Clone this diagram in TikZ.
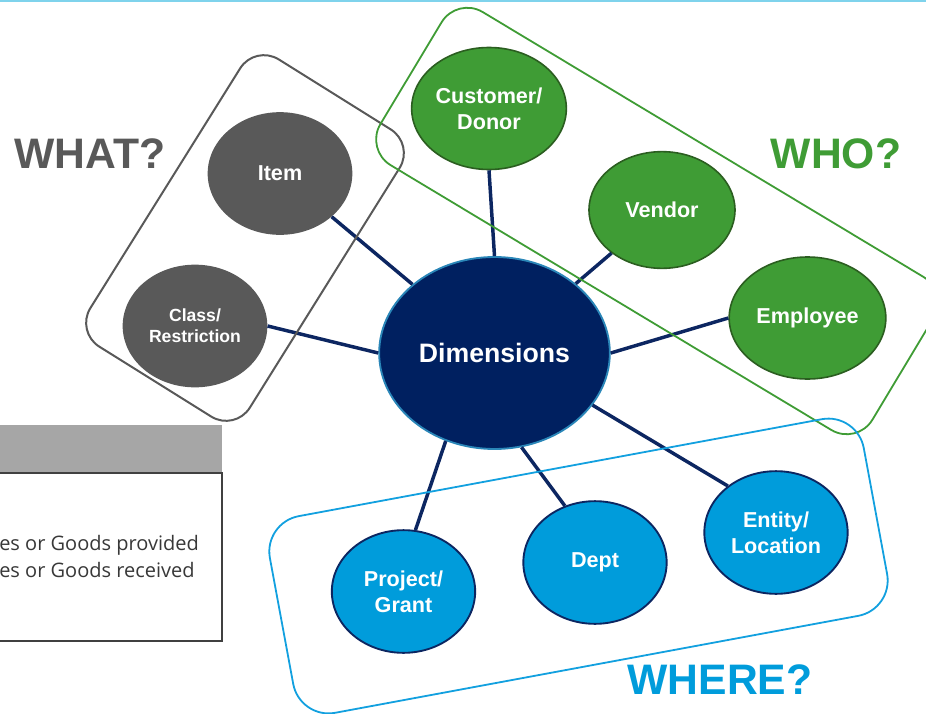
\documentclass[tikz,border=0pt]{standalone}
\usepackage{fontspec}
\setmainfont{Liberation Sans}
\newfontfamily\tablefont{Open Sans}
\usetikzlibrary{shapes.geometric}

\definecolor{whatgray}{HTML}{595959}
\definecolor{whogreen}{HTML}{3F9C35}
\definecolor{whoedge}{HTML}{2B5E20}
\definecolor{whereblue}{HTML}{009CDB}
\definecolor{wherebox}{HTML}{12A0DF}
\definecolor{dimnavy}{HTML}{002060}
\definecolor{dimedge}{HTML}{2A86B8}
\definecolor{linknavy}{HTML}{0C2661}
\definecolor{topline}{HTML}{7FD3EC}
\definecolor{headgray}{HTML}{A6A6A6}

\begin{document}
\begin{tikzpicture}[x=0.75pt,y=0.75pt,
    every node/.style={inner sep=0pt, align=center},
    dim node/.style={ellipse, fill=dimnavy, draw=dimedge, line width=1.4pt,
      minimum width=173pt, minimum height=144pt, text=white,
      font=\bfseries\fontsize{20}{24}\selectfont},
    what node/.style={ellipse, fill=whatgray, minimum width=108.5pt,
      minimum height=92pt, text=white, font=\bfseries\fontsize{16.2}{19.5}\selectfont},
    who node/.style={ellipse, fill=whogreen, draw=whoedge, line width=1.2pt,
      text=white, font=\bfseries\fontsize{16.2}{19.5}\selectfont},
    where node/.style={ellipse, fill=whereblue, draw=linknavy, line width=1.4pt,
      minimum width=107.5pt, minimum height=92pt, text=white,
      font=\bfseries\fontsize{16.2}{19.5}\selectfont},
    group box/.style={rectangle, line width=1.35pt},
    group label/.style={font=\bfseries\fontsize{32}{36}\selectfont},
    connector/.style={draw=linknavy, line width=2.6pt},
    table text/.style={text=black!78, font=\tablefont\fontsize{15}{18}\selectfont}]

  \useasboundingbox (0,0) rectangle (926,-714);

  % thin rule along the top
  \draw[topline, line width=1.5pt] (0,-0.8) -- (926,-0.8);

  % legend table, cut off on the left
  \fill[headgray] (-5,-425) rectangle (222,-473);
  \draw[black!75, line width=0.9pt, fill=white] (-5,-473) rectangle (222,-641);
  \node[table text, anchor=base west] (provided) at (-1,-550) {es or Goods provided};
  \node[table text, anchor=base west] (received) at (-1,-577) {es or Goods received};

  \node[dim node] (dim) at (494.5,-353) {Dimensions};

  \node[what node] (item) at (280,-173.5) {Item};
  \node[what node, font=\bfseries\fontsize{13.2}{15.5}\selectfont] (cls) at (195,-326) {Class/\\Restriction};

  \node[who node, minimum width=116pt, minimum height=91.5pt] (cust) at (489,-108.5) {Customer/\\Donor};
  \node[who node, minimum width=109.5pt, minimum height=87.5pt] (vend) at (662,-210) {Vendor};
  \node[who node, minimum width=117.5pt, minimum height=91.5pt] (emp) at (807.5,-318) {Employee};

  \node[where node] (proj) at (403.5,-591.5) {Project/\\Grant};
  \node[where node] (dept) at (595,-562.5) {Dept};
  \node[where node] (ent) at (776,-532.5) {Entity/\\Location};

  \path[connector]
  (item) edge (dim)
  (cls.east) edge (dim.west)
  (cust.south) edge (dim.north)
  (vend) edge (dim)
  (emp.west) edge (dim.east)
  (proj.79) edge (dim.241)
  (dept.118) edge (dim.-74)
  (ent.136) edge (dim.-28);

  % groups
  \node[group box, draw=whatgray, line width=1.5pt, rounded corners=21pt,
    minimum width=141pt, minimum height=254pt, rotate=-32] (whatbox) at (245,-238) {};
  \node[group box, draw=whogreen, rounded corners=22.5pt,
    minimum width=430.5pt, minimum height=134pt, rotate=-31] (whobox) at (657,-221) {};
  \node[group box, draw=wherebox, rounded corners=27pt,
    minimum width=453pt, minimum height=150pt, rotate=10.5] (wherebox) at (578.5,-566) {};

  \node[group label, text=whatgray] (what) at (90,-154) {WHAT?};
  \node[group label, text=whogreen] (who) at (836,-153.5) {WHO?};
  \node[group label, text=whereblue] (where) at (720,-680) {WHERE?};
\end{tikzpicture}
\end{document}
